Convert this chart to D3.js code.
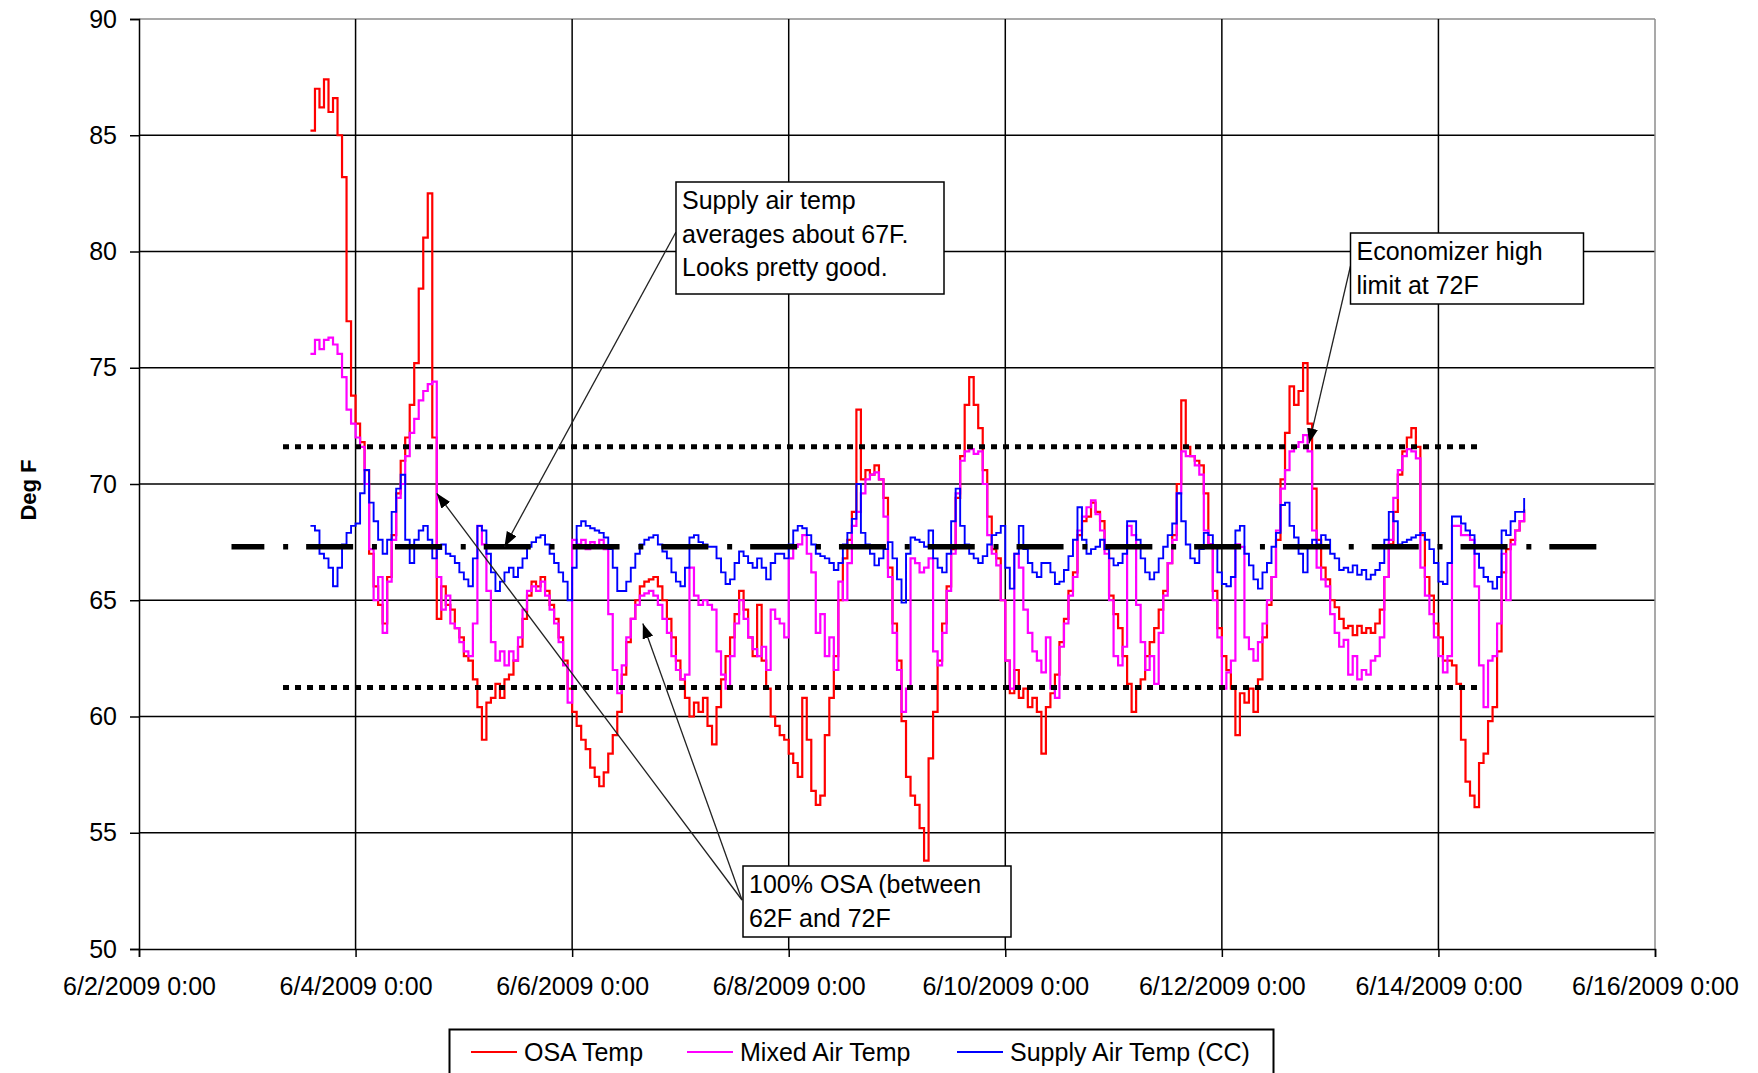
<!DOCTYPE html>
<html>
<head>
<meta charset="utf-8">
<script src="https://cdn.jsdelivr.net/npm/d3@7"></script>
<style>
  html, body { margin: 0; padding: 0; background: #fff; }
  svg { display: block; font-family: "Liberation Sans", Arial, sans-serif; }
</style>
</head>
<body>
<div id="chart"></div>
<script>
// one reading per hour, starting 6/3/2009 14:00
const startTime = new Date(2009, 5, 3, 14, 0);

const osaTemp = [
  85.2, 87.0, 86.2, 87.4, 86.0, 86.6, 85.0, 83.2, 77.0, 73.8,
  72.6, 71.8, 70.6, 67.0, 65.6, 64.8, 64.0, 66.0, 67.8, 69.6,
  71.0, 72.0, 73.4, 75.2, 78.4, 80.6, 82.5, 72.0, 64.2, 65.6,
  64.8, 64.6, 63.8, 63.4, 62.6, 62.4, 61.6, 60.4, 59.0, 60.6,
  60.8, 61.4, 60.8, 61.6, 61.8, 62.4, 63.0, 64.2, 65.2, 65.8,
  65.6, 66.0, 65.4, 64.8, 64.2, 63.4, 62.4, 61.2, 60.2, 59.6,
  59.0, 58.6, 57.8, 57.4, 57.0, 57.6, 58.4, 59.2, 60.2, 61.8,
  63.2, 64.2, 65.0, 65.6, 65.8, 65.9, 66.0, 65.6, 65.0, 64.2,
  63.4, 62.4, 61.6, 60.8, 60.0, 60.6, 60.2, 60.8, 59.6, 58.8,
  60.4, 61.6, 62.6, 63.4, 64.4, 65.4, 64.6, 63.4, 62.6, 64.8,
  62.4, 61.2, 60.0, 59.6, 59.2, 59.0, 58.4, 58.0, 57.4, 60.8,
  59.0, 56.8, 56.2, 56.6, 59.2, 60.8, 62.6, 65.0, 66.8, 67.6,
  68.8, 73.2, 70.2, 70.6, 70.4, 70.8, 70.2, 69.4, 66.4, 64.0,
  62.4, 59.8, 57.4, 56.6, 56.2, 55.2, 53.8, 58.2, 60.2, 62.4,
  64.0, 65.6, 67.2, 69.4, 71.2, 73.4, 74.6, 73.4, 72.4, 70.6,
  68.6, 67.2, 66.8, 65.0, 62.4, 61.0, 62.0, 60.8, 61.2, 60.4,
  60.8, 60.2, 58.4, 60.4, 61.0, 61.8, 63.2, 64.2, 65.4, 66.2,
  67.8, 68.4, 68.6, 69.2, 68.8, 68.4, 67.2, 65.2, 64.4, 63.8,
  62.6, 61.4, 60.2, 61.2, 61.6, 62.6, 63.2, 63.8, 64.6, 65.4,
  66.6, 67.8, 70.0, 73.6, 71.6, 71.2, 71.0, 70.8, 69.6, 67.4,
  65.4, 63.8, 62.6, 62.0, 61.2, 59.2, 61.0, 60.6, 61.2, 60.2,
  61.6, 63.4, 64.8, 66.0, 67.6, 70.2, 72.2, 74.2, 73.4, 74.0,
  75.2, 72.6, 69.8, 67.6, 66.4, 65.9, 65.0, 64.7, 64.2, 63.8,
  63.9, 63.5, 63.9, 63.6, 63.8, 63.6, 64.0, 64.6, 66.0, 67.4,
  68.8, 70.4, 71.4, 72.0, 72.4, 71.6, 67.8, 66.0, 65.2, 64.0,
  63.4, 62.4, 62.4, 62.2, 61.4, 59.0, 57.2, 56.6, 56.1, 58.0,
  58.4, 59.8, 60.4, 62.8, 66.2, 67.2, 67.6, 68.0, 68.4, 68.9
];

const mixedAirTemp = [
  75.6, 76.2, 75.8, 76.2, 76.3, 76.0, 75.6, 74.6, 73.2, 72.6,
  72.0, 71.6, 70.0, 67.2, 65.0, 66.0, 63.6, 65.8, 67.6, 69.4,
  70.0, 71.2, 72.2, 72.8, 73.6, 74.0, 74.3, 74.4, 66.0, 64.6,
  65.2, 64.0, 63.8, 63.2, 62.8, 62.6, 64.0, 68.2, 67.4, 65.4,
  63.2, 62.4, 62.8, 62.2, 62.8, 62.4, 63.4, 64.6, 65.4, 65.6,
  65.4, 65.8, 65.2, 64.6, 64.0, 63.2, 62.2, 60.6, 67.6, 67.4,
  67.6, 67.2, 67.5, 67.3, 67.6, 67.2, 64.4, 62.0, 61.0, 62.2,
  63.4, 64.2, 64.8, 65.2, 65.3, 65.4, 65.2, 64.8, 64.2, 63.6,
  62.6, 62.0, 61.6, 61.8, 66.4, 65.2, 64.8, 65.0, 64.8, 64.6,
  62.8, 61.8, 61.2, 62.6, 64.0, 65.0, 64.2, 63.4, 62.9, 62.6,
  63.0, 62.0, 64.6, 64.2, 64.0, 63.4, 66.8, 67.3, 67.4, 67.8,
  67.0, 66.2, 63.6, 64.4, 62.6, 63.4, 62.0, 65.8, 65.0, 66.6,
  68.2, 68.8, 69.6, 70.2, 70.4, 70.5, 70.2, 68.6, 66.0, 63.6,
  62.0, 60.2, 61.2, 66.8, 66.6, 66.2, 66.4, 66.8, 62.8, 62.2,
  63.6, 65.4, 67.0, 69.6, 71.0, 71.4, 71.5, 71.3, 71.4, 70.0,
  67.8, 67.0, 66.5, 65.0, 62.4, 61.2, 67.0, 66.4, 64.6, 63.6,
  62.8, 62.4, 61.9, 63.4, 61.2, 60.8, 63.0, 64.0, 65.2, 66.0,
  68.0, 68.6, 69.0, 69.3, 68.7, 68.0, 67.0, 65.0, 62.6, 62.2,
  63.0, 68.2, 67.8, 64.8, 63.2, 62.0, 62.6, 61.4, 63.6, 65.2,
  66.6, 67.6, 69.6, 71.4, 71.2, 71.2, 70.8, 70.4, 68.0, 67.4,
  65.0, 63.4, 61.2, 61.9, 62.4, 67.4, 67.3, 63.4, 62.9, 62.4,
  63.2, 64.0, 65.0, 66.0, 68.0, 69.8, 70.6, 71.4, 71.6, 71.8,
  72.1, 71.4, 68.0, 66.4, 65.9, 65.6, 64.4, 63.6, 63.0, 63.3,
  61.8, 62.6, 61.6, 62.0, 61.8, 62.4, 62.6, 63.4, 66.0, 67.6,
  69.4, 70.6, 71.2, 71.5, 71.4, 71.1, 66.4, 65.2, 64.4, 63.4,
  62.6, 61.9, 62.6, 68.2, 68.2, 67.8, 67.8, 67.6, 65.6, 62.2,
  60.4, 62.4, 62.6, 64.0, 67.0, 65.0, 67.4, 68.0, 68.4, 68.8
];

const supplyAirTemp = [
  68.2, 68.0, 67.0, 66.8, 66.4, 65.6, 66.4, 67.4, 67.9, 68.2,
  68.3, 69.6, 70.6, 69.2, 68.4, 67.6, 67.0, 67.6, 68.8, 69.8,
  70.4, 67.6, 66.6, 67.6, 68.0, 68.2, 67.6, 66.8, 67.2, 67.4,
  67.0, 66.9, 66.6, 66.2, 65.9, 65.6, 66.8, 68.2, 68.0, 67.0,
  66.2, 65.4, 65.8, 66.2, 66.4, 66.0, 66.4, 66.8, 67.3, 67.5,
  67.7, 67.8, 67.4, 67.0, 66.6, 66.2, 65.8, 65.0, 66.4, 68.2,
  68.4, 68.2, 68.1, 68.0, 67.9, 67.7, 67.2, 66.4, 65.4, 65.4,
  65.8, 66.4, 67.0, 67.4, 67.6, 67.7, 67.8, 67.4, 67.1, 66.8,
  66.2, 65.8, 65.6, 66.4, 67.7, 67.8, 67.5, 67.4, 67.3, 67.3,
  66.8, 66.2, 65.7, 65.9, 66.6, 67.1, 66.9, 66.6, 66.4, 66.8,
  66.4, 65.9, 66.6, 67.0, 67.0, 66.8, 67.4, 68.0, 68.2, 68.1,
  67.8, 67.4, 67.0, 66.9, 66.8, 66.6, 66.3, 66.6, 67.4, 67.9,
  68.5, 70.0, 67.9, 67.4, 67.0, 66.5, 66.8, 67.2, 67.5, 66.8,
  65.9, 64.9, 67.0, 67.7, 67.6, 67.5, 67.3, 68.0, 66.8, 66.4,
  66.2, 67.0, 68.4, 69.8, 68.2, 67.4, 67.0, 66.8, 66.6, 66.9,
  67.4, 67.8, 67.9, 68.2, 66.4, 65.5, 67.0, 68.2, 67.2, 66.6,
  66.2, 66.0, 66.6, 66.6, 66.2, 65.7, 65.8, 66.3, 66.9, 67.6,
  69.0, 67.6, 67.0, 67.2, 67.3, 67.6, 67.2, 66.8, 66.5, 66.6,
  67.0, 68.4, 68.4, 67.6, 66.8, 66.2, 65.9, 66.2, 66.8, 67.3,
  67.8, 68.3, 69.6, 68.4, 67.4, 66.8, 66.6, 67.2, 67.9, 67.8,
  67.3, 66.2, 65.7, 65.6, 66.0, 68.0, 68.2, 67.0, 66.5, 65.9,
  65.5, 66.2, 66.6, 67.3, 67.9, 69.1, 69.2, 68.2, 67.7, 67.0,
  66.2, 67.3, 67.6, 67.4, 67.8, 67.6, 67.0, 66.8, 66.3, 66.4,
  66.2, 66.5, 66.1, 66.3, 65.9, 66.1, 66.3, 66.6, 67.6, 68.8,
  68.4, 67.4, 67.5, 67.6, 67.7, 67.8, 67.9, 67.6, 67.2, 66.6,
  65.8, 65.7, 66.6, 68.6, 68.6, 68.3, 68.0, 67.8, 67.0, 66.4,
  66.0, 65.8, 65.5, 66.0, 68.0, 67.8, 68.4, 68.8, 68.8, 69.4
];

const seriesNames = ['OSA Temp', 'Mixed Air Temp', 'Supply Air Temp (CC)'];
const seriesColors = ['#ff0000', '#ff00ff', '#0000ff'];

const yTicks = [50, 55, 60, 65, 70, 75, 80, 85, 90];
const xTicks = [2, 4, 6, 8, 10, 12, 14, 16].map(d => new Date(2009, 5, d));

// drawn guide lines
const highLimit = 71.6;
const lowLimit = 61.25;
const supplyAverage = 67.3;
const limitStart = new Date(2009, 5, 3, 7, 55);
const limitEnd = new Date(2009, 5, 14, 9, 20);
const avgStart = new Date(2009, 5, 2, 20, 30);
const avgEnd = new Date(2009, 5, 15, 11, 0);

const notes = [
  { lines: ['Supply air temp', 'averages about 67F.', 'Looks pretty good.'],
    box: [676, 182, 268, 112], from: [676, 232],
    targets: [[new Date(2009, 5, 5, 9, 0), 67.3]] },
  { lines: ['Economizer high', 'limit at 72F'],
    box: [1350.5, 233, 233, 71], from: [1350.5, 266],
    targets: [[new Date(2009, 5, 12, 19, 20), 71.75]] },
  { lines: ['100% OSA (between', '62F and 72F'],
    box: [743, 866, 268, 71], from: [742, 900],
    targets: [[new Date(2009, 5, 4, 18, 0), 69.6], [new Date(2009, 5, 6, 15, 40), 64.0]] }
];

const width = 1758;
const height = 1073;
const plot = { left: 139, right: 1655, top: 19, bottom: 949 };

const svg = d3.select('#chart')
  .append('svg')
  .attr('width', width)
  .attr('height', height);

const x = d3.scaleTime()
  .domain([new Date(2009, 5, 2), new Date(2009, 5, 16)])
  .range([plot.left, plot.right]);
const y = d3.scaleLinear()
  .domain([50, 90])
  .range([plot.bottom, plot.top]);

const timeAt = i => d3.timeHour.offset(startTime, i);

// grid
svg.append('g')
  .selectAll('line')
  .data(yTicks.slice(1))
  .join('line')
  .attr('x1', plot.left).attr('x2', plot.right)
  .attr('y1', d => y(d)).attr('y2', d => y(d))
  .attr('stroke', d => d === 90 ? '#8c8c8c' : '#000')
  .attr('stroke-width', 1.5);

svg.append('g')
  .selectAll('line')
  .data(xTicks.slice(1))
  .join('line')
  .attr('x1', d => x(d)).attr('x2', d => x(d))
  .attr('y1', plot.top).attr('y2', plot.bottom)
  .attr('stroke', (d, i) => i === xTicks.length - 2 ? '#8c8c8c' : '#000')
  .attr('stroke-width', 1.5);

// axes
const yAxis = svg.append('g')
  .attr('transform', 'translate(' + plot.left + ',0)')
  .call(d3.axisLeft(y).tickValues(yTicks).tickSize(9).tickPadding(13));
const xAxis = svg.append('g')
  .attr('transform', 'translate(0,' + plot.bottom + ')')
  .call(d3.axisBottom(x).tickValues(xTicks).tickSize(8).tickPadding(20)
    .tickFormat(d3.timeFormat('%-m/%-d/%Y %-H:%M')));

[yAxis, xAxis].forEach(g => {
  g.select('.domain').attr('stroke', '#000').attr('stroke-width', 1.5);
  g.selectAll('.tick line').attr('stroke', '#000').attr('stroke-width', 1.5);
  g.selectAll('.tick text')
    .attr('fill', '#000')
    .style('font-family', '"Liberation Sans", Arial, sans-serif')
    .style('font-size', '25px');
});

svg.append('text')
  .attr('transform', 'translate(36,490) rotate(-90)')
  .attr('text-anchor', 'middle')
  .style('font-size', '22px')
  .style('font-weight', 'bold')
  .text('Deg F');

// series
const line = d3.line()
  .x((d, i) => x(timeAt(i)))
  .y(d => y(d))
  .curve(d3.curveStepAfter);

[osaTemp, mixedAirTemp, supplyAirTemp].forEach((values, k) => {
  svg.append('path')
    .datum(values)
    .attr('fill', 'none')
    .attr('stroke', seriesColors[k])
    .attr('stroke-width', k === 2 ? 1.9 : 2.2)
    .attr('d', line);
});

// guide lines
svg.append('g')
  .selectAll('line')
  .data([highLimit, lowLimit])
  .join('line')
  .attr('x1', x(limitStart)).attr('x2', x(limitEnd))
  .attr('y1', d => y(d)).attr('y2', d => y(d))
  .attr('stroke', '#000')
  .attr('stroke-width', 5)
  .attr('stroke-dasharray', '6 6');

svg.append('line')
  .attr('x1', x(avgEnd)).attr('x2', x(avgStart))
  .attr('y1', y(supplyAverage)).attr('y2', y(supplyAverage))
  .attr('stroke', '#000')
  .attr('stroke-width', 5.5)
  .attr('stroke-dasharray', '47 18 5 18.8');

// callouts
svg.append('defs').append('marker')
  .attr('id', 'arrow')
  .attr('markerUnits', 'userSpaceOnUse')
  .attr('markerWidth', 16).attr('markerHeight', 12)
  .attr('refX', 15).attr('refY', 5.5)
  .attr('orient', 'auto')
  .append('path')
  .attr('d', 'M0,0L15,5.5L0,11Z')
  .attr('fill', '#000');

notes.forEach(n => {
  n.targets.forEach(t => {
    svg.append('line')
      .attr('x1', n.from[0]).attr('y1', n.from[1])
      .attr('x2', x(t[0])).attr('y2', y(t[1]))
      .attr('stroke', '#222')
      .attr('stroke-width', 1.3)
      .attr('marker-end', 'url(#arrow)');
  });
  const [bx, by, bw, bh] = n.box;
  svg.append('rect')
    .attr('x', bx).attr('y', by)
    .attr('width', bw).attr('height', bh)
    .attr('fill', '#fff')
    .attr('stroke', '#000')
    .attr('stroke-width', 1.5);
  svg.append('g')
    .selectAll('text')
    .data(n.lines)
    .join('text')
    .attr('x', bx + 6)
    .attr('y', (d, i) => by + 27 + i * 33.5)
    .style('font-size', '25px')
    .text(d => d);
});

// legend
const legend = svg.append('g');
legend.append('rect')
  .attr('x', 449.5).attr('y', 1029.5)
  .attr('width', 824).attr('height', 80)
  .attr('fill', '#fff')
  .attr('stroke', '#000')
  .attr('stroke-width', 2);

const legendX = [471, 687, 957];
seriesNames.forEach((name, k) => {
  legend.append('line')
    .attr('x1', legendX[k]).attr('x2', legendX[k] + 46)
    .attr('y1', 1052).attr('y2', 1052)
    .attr('stroke', seriesColors[k])
    .attr('stroke-width', 2);
  legend.append('text')
    .attr('x', legendX[k] + 53)
    .attr('y', 1061)
    .style('font-size', '25px')
    .text(name);
});
</script>
</body>
</html>
